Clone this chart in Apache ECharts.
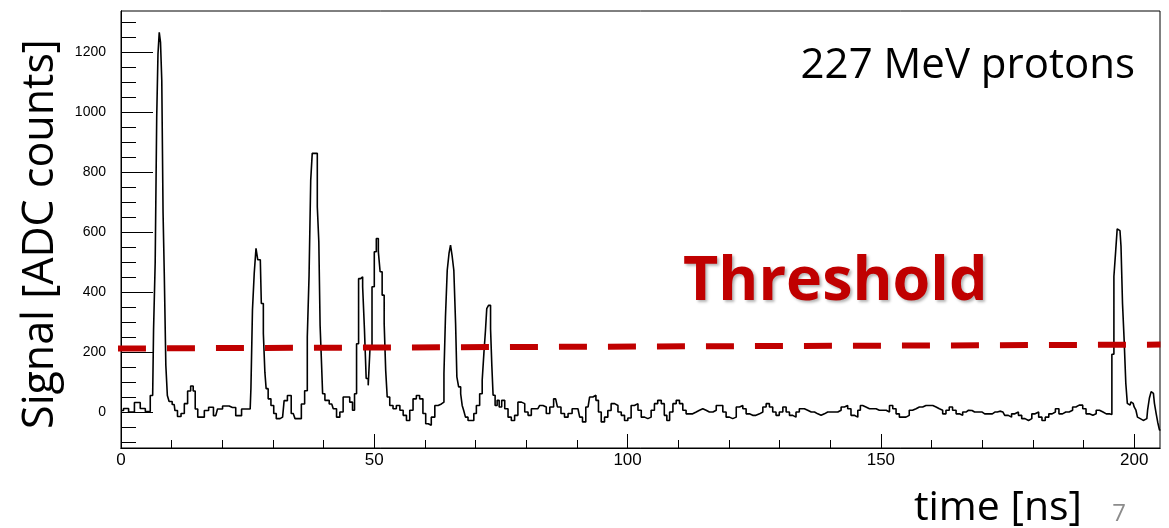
<!DOCTYPE html>
<html><head><meta charset="utf-8">
<script src="https://cdn.jsdelivr.net/npm/echarts@6/dist/echarts.min.js"></script>
<style>html,body{margin:0;padding:0;background:#fff}#c{width:1169px;height:528px}</style>
</head><body><div id="c"></div>
<script>
// Waveform samples (time in ns, signal in ADC counts)
const timeNs = [
  0, 1, 2, 3.3, 4.3, 5.3, 6.25, 6.6, 6.9, 7.2, 7.4, 7.7, 7.9, 8.2, 8.4, 8.7, 9.0, 9.3, 9.7, 10.5, 10.8, 11.5, 12.2, 12.8, 13.5, 14.0,
  14.5, 14.8, 15.5, 16.1, 16.8, 17.8, 18.7, 19.4, 20.7, 22.0, 23.3, 24.3, 25.5, 25.8, 26.1, 26.5, 26.8, 27.2, 27.5, 27.9,
  28.3, 28.5, 28.8, 29.3, 29.9, 30.4, 30.9, 31.9, 32.5, 33.2,
  34.0, 34.7, 35.3, 35.9, 36.6, 36.95, 37.3, 37.6, 37.9, 38.6, 38.9, 39.2, 39.4, 39.7, 39.9, 40.6, 41.6, 42.2, 42.9, 43.5,
  44.2, 44.8, 45.5, 45.9, 46.3, 46.7, 47.1, 47.5, 47.9, 48.2, 48.6, 49.0, 49.3, 49.8, 50.2, 50.6, 51.0, 51.3, 51.8, 52.1,
  52.4, 52.7, 53.4, 54.0, 54.7, 55.4, 56.0, 56.7, 57.3, 58.0, 58.6, 59.3, 59.9, 60.4, 60.9, 61.6, 62.3, 62.9, 63.6, 63.9,
  64.2, 64.6, 64.9, 65.2, 65.5, 65.9, 66.2, 66.4,
  66.9, 67.2, 67.5, 67.8, 68.2, 68.8, 69.5, 69.8, 70.5, 71.1, 71.5, 71.8, 72.1, 72.3, 72.8, 73.1, 73.3, 73.6, 74.1, 74.4,
  74.9, 75.4, 76.1, 76.7, 77.4, 78.0, 78.7, 79.4, 80.0, 80.7, 81.3, 82.3, 83.0, 83.6, 84.3, 85.0, 85.8, 86.5, 87.2, 87.9,
  88.6, 89.5, 90.2, 90.9, 91.3, 92.2, 92.8, 93.5, 94.0, 94.5, 95.1, 95.8, 96.4, 97.1, 97.8, 98.4, 99.1, 99.7,
  100.4, 101.0, 101.7, 102.4, 103.0, 103.7, 104.3, 105.0, 105.6, 106.3, 107.0, 107.5, 108.0, 108.6, 109.3, 109.9, 110.6, 111.2, 111.9, 112.5,
  113.2, 113.9, 114.5, 115.2, 115.8, 116.5, 117.2, 117.8, 118.5, 119.1, 119.8, 120.4, 121.1, 121.8, 122.4, 123.1, 123.7, 124.4, 125.0, 125.7,
  126.4, 127.0, 127.7, 128.3, 129.0, 129.6, 130.3, 131.0, 131.6, 132.3, 132.9, 133.6, 134.2,
  134.6, 135.2, 135.9, 136.6, 137.2, 137.9, 138.5, 139.2, 139.8, 140.5, 141.2, 141.8, 142.5, 143.1, 143.8, 144.4, 145.1, 145.8, 146.1, 146.7,
  147.4, 148.1, 148.7, 149.4, 150.0, 150.7, 151.4, 152.0, 152.7, 153.3, 154.0, 154.6, 155.3, 155.9, 156.6, 157.3, 157.9, 158.6, 159.2, 159.9,
  160.6, 161.2, 161.9, 162.5, 163.2, 163.8, 164.5, 165.2, 165.8, 166.5, 167.1,
  167.5, 168.5, 169.5, 170.5, 171.5, 172.5, 173.5, 174.1, 174.8, 175.5, 176.1, 176.8, 177.5, 178.1, 178.8, 179.5, 180.1, 180.8, 181.5, 182.1,
  182.8, 183.5, 184.1, 184.8, 185.5, 186.2, 186.8, 187.5, 188.2, 188.8, 189.5, 190.2, 190.8, 191.5, 192.2, 192.8, 193.5, 194.2, 194.8, 195.4,
  195.8, 196.2, 196.5, 196.8, 197.2, 197.6, 197.8, 198.2, 198.5, 198.8, 199.2, 199.5, 199.8, 200.2, 200.5, 200.8, 201.2, 201.8, 202.5, 202.8,
  203.2, 203.5, 203.8, 204.2, 204.5, 204.8, 205.2
];
const signalAdc = [
  5, 12, 0, 32, 12, 2, 55, 272, 500, 985, 1195, 1267, 1233, 1105, 667, 455, 156, 55, 35, 25, 5, -15, -5, 28, 70, 87,
  70, 10, -17, -17, 5, 16, -12, 10, 20, 15, -12, 10, 10, 80, 340, 463, 546, 508, 508, 362,
  262, 133, 78, 44, 22, -5, -22, -17, 38, 55,
  -5, -22, -22, 27, 71, 250, 456, 773, 863, 863, 685, 568, 290, 178, 61, 39, 27, 11, -17, 0,
  50, 50, 33, 6, 61, 228, 445, 451, 418, 279, 112, 89, 211, 418, 535, 579, 535, 468, 390, 295,
  139, 50, 22, 11, 22, 6, -11, -28, 6, 44, 55, 44, -5, -39, -44, -17, 22, 27, 33, 128,
  317, 473, 529, 557, 523, 473, 295, 117,
  84, 61, 22, 5, -17, -28, -28, -5, 22, 61, 106, 200, 273, 345, 356, 278, 156, 56, 22, 39,
  17, 39, 11, -17, -28, -11, 33, 28, 0, -11, 11, 11, 22, 17, -5, 17, 44, 17, -5, -17,
  -5, 11, 11, -17, -33, 17, 50, 56, 39, 0, -33, -17, 5, 28, 22, 0, -11, -28,
  -20, 22, 28, 6, -17, -22, -17, 6, 28, 39, 28, -11, -28, 0, 28, 39, 28, 6, -6, -6,
  0, 6, 11, 6, 0, 0, 6, 22, 22, 0, -17, -22, -17, 17, 22, 11, -6, -11, -11, -6,
  0, 17, 28, 17, 0, -11, 0, 17, 0, -11, -17, 0, 11,
  11, 6, 0, 0, -6, -11, -6, 0, 0, 0, 0, 6, 17, 22, 11, -11, -17, 6, 22, 17,
  11, 11, 11, 6, 6, 6, 0, 22, 11, -6, -17, -17, -11, 6, 11, 17, 17, 22, 22, 22,
  17, 11, 6, -6, 6, 17, 6, -6, -11, 0, 6,
  5, 0, 0, -6, -6, 0, 3, 0, -11, -17, -6, 0, -11, -22, -28, -22, -6, 0, -17, -28,
  -17, -6, 0, 11, -6, 0, 0, 6, 17, 23, 23, 11, -6, -11, -6, 6, 0, -6, -6, -8,
  193, 452, 537, 611, 605, 554, 362, 249, 96, 29, 23, 34, 29, 17, 6, -17, -22, -28, -22, 6,
  46, 68, 62, 29, -6, -34, -60
];
// Hand-drawn threshold line (start/end)
const thresholdTime = [-0.6, 205.2];
const thresholdAdc = [212, 225];

// Axis ticks
const yMajorTicks = [0, 200, 400, 600, 800, 1000, 1200];
const yMinorTicks = [-100, -50, 50, 100, 150, 250, 300, 350, 450, 500, 550, 650, 700, 750, 850, 900, 950, 1050, 1100, 1150, 1250, 1300];
const xMajorTicks = [0, 50, 100, 150, 200];
const xMinorTicks = [10, 20, 30, 40, 60, 70, 80, 90, 110, 120, 130, 140, 160, 170, 180, 190];
const xRange = [0, 205.1];
const yRange = [-120, 1338];

const yTitle = 'Signal [ADC counts]';
const xTitle = 'time [ns]';
const annotation = '227 MeV protons';
const thresholdLabel = 'Threshold';
const slideNumber = '7';

const chart = echarts.init(document.getElementById('c'), null, {renderer: 'canvas'});
const labelFont = '"Liberation Sans Narrow", "Liberation Sans", Arial, sans-serif';
const titleFont = '"Open Sans", "Noto Sans", sans-serif';
const plain = v => String(v);

const gridRect = {left: 121, right: 9, top: 11, bottom: 80, containLabel: false};
const commonX = {type: 'value', min: xRange[0], max: xRange[1], splitLine: {show: false}, position: 'bottom'};
const commonY = {type: 'value', min: yRange[0], max: yRange[1], splitLine: {show: false}, position: 'left'};

chart.setOption({
  animation: false,
  grid: [
    Object.assign({show: true, borderColor: '#000', borderWidth: 1}, gridRect),
    Object.assign({show: false}, gridRect)
  ],
  xAxis: [
    Object.assign({}, commonX, {
      gridIndex: 0,
      axisLine: {show: true, onZero: false, lineStyle: {color: '#000', width: 1}},
      axisTick: {show: true, inside: true, length: 14, customValues: xMajorTicks, lineStyle: {color: '#000', width: 1}},
      axisLabel: {show: true, customValues: xMajorTicks, formatter: plain, margin: 4, color: '#000', fontSize: 17, fontFamily: labelFont}
    }),
    Object.assign({}, commonX, {
      gridIndex: 1,
      axisLine: {show: true, onZero: false, lineStyle: {color: '#000', width: 1}},
      axisTick: {show: true, inside: true, length: 8, customValues: xMinorTicks, lineStyle: {color: '#000', width: 1}},
      axisLabel: {show: false}
    })
  ],
  yAxis: [
    Object.assign({}, commonY, {
      gridIndex: 0,
      axisLine: {show: true, onZero: false, lineStyle: {color: '#000', width: 1}},
      axisTick: {show: true, inside: true, length: 32, customValues: yMajorTicks, lineStyle: {color: '#000', width: 1}},
      axisLabel: {show: true, customValues: yMajorTicks, formatter: plain, margin: 15, color: '#000', fontSize: 14, fontFamily: labelFont}
    }),
    Object.assign({}, commonY, {
      gridIndex: 1,
      axisLine: {show: true, onZero: false, lineStyle: {color: '#000', width: 1}},
      axisTick: {show: true, inside: true, length: 15, customValues: yMinorTicks, lineStyle: {color: '#000', width: 1}},
      axisLabel: {show: false}
    })
  ],
  series: [
    {
      type: 'line', xAxisIndex: 0, yAxisIndex: 0,
      data: timeNs.map((t, i) => [t, signalAdc[i]]),
      step: 'middle', symbol: 'none', clip: true,
      lineStyle: {color: '#000', width: 1.6}, z: 2
    },
    {
      type: 'line', xAxisIndex: 0, yAxisIndex: 0,
      data: thresholdTime.map((t, i) => [t, thresholdAdc[i]]),
      symbol: 'none', clip: false, silent: true,
      lineStyle: {color: '#c00000', width: 6, type: [28, 21], cap: 'butt'}, z: 3
    }
  ],
  graphic: [
    {type: 'text', x: 41, y: 234, rotation: Math.PI / 2,
     style: {text: yTitle, font: '43px ' + titleFont, fill: '#000', align: 'center', verticalAlign: 'middle'}},
    {type: 'text', x: 1135, y: 66,
     style: {text: annotation, font: '42px ' + titleFont, fill: '#000', align: 'right', verticalAlign: 'middle'}},
    {type: 'text', x: 683, y: 283,
     style: {text: thresholdLabel, font: 'bold 61px ' + titleFont, fill: '#c00000', align: 'left', verticalAlign: 'middle',
             textShadowColor: 'rgba(0,0,0,0.3)', textShadowBlur: 3, textShadowOffsetX: 2, textShadowOffsetY: 2}},
    {type: 'text', x: 1082, y: 508,
     style: {text: xTitle, font: '41px ' + titleFont, fill: '#000', align: 'right', verticalAlign: 'middle'}},
    {type: 'text', x: 1119, y: 514,
     style: {text: slideNumber, font: '24px ' + titleFont, fill: '#8c8c8c', align: 'center', verticalAlign: 'middle'}}
  ]
});
</script>
</body></html>
